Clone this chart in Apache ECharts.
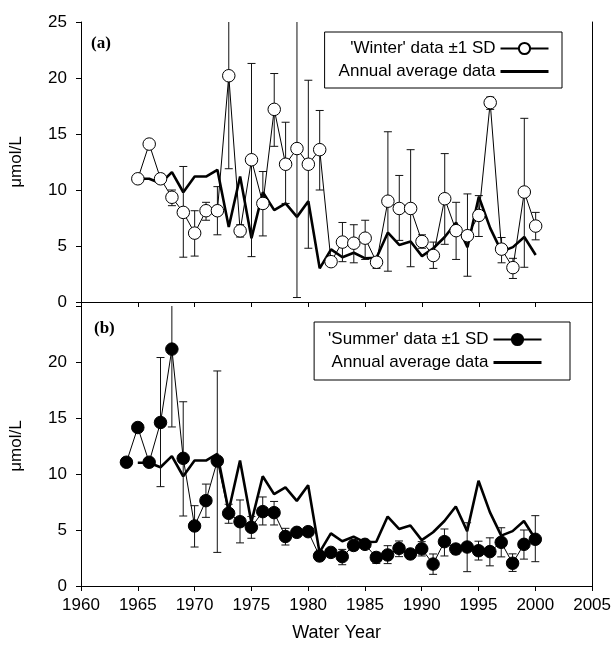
<!DOCTYPE html>
<html>
<head>
<meta charset="utf-8">
<script src="https://cdn.jsdelivr.net/npm/echarts@6/dist/echarts.min.js"></script>
<style>html,body{margin:0;padding:0;background:#fff}#c{width:614px;height:652px}</style>
</head>
<body>
<div id="c"></div>
<script>
// ---- Data ----
const winterYears = [1965,1966,1967,1968,1969,1970,1971,1972,1973,1974,1975,1976,1977,1978,1979,1980,1981,1982,1983,1984,1985,1986,1987,1988,1989,1990,1991,1992,1993,1994,1995,1996,1997,1998,1999,2000];
const winterVals = [11.0,14.1,11.0,9.35,8.0,6.15,8.15,8.15,20.2,6.35,12.7,8.8,17.2,12.3,13.7,12.3,13.6,3.6,5.35,5.25,5.7,3.55,9.0,8.35,8.35,5.4,4.15,9.22,6.37,5.92,7.73,17.8,4.72,3.07,9.82,6.78];
const winterLow  = [null,null,null,8.6,4.0,4.1,7.3,6.0,11.9,5.8,4.05,5.9,13.9,8.8,0.4,4.8,10.0,null,3.6,3.5,3.8,3.0,2.75,5.5,3.15,4.8,3.0,5.15,3.8,2.3,5.85,17.2,3.5,2.1,3.1,5.55];
const winterHigh = [null,null,null,10.0,12.1,8.15,8.9,10.3,27,6.9,21.3,11.65,20.4,16.05,27,19.8,17.1,null,7.1,6.9,7.3,4.0,15.2,11.3,13.6,6.0,5.35,13.25,8.9,9.65,9.5,18.3,5.76,3.9,16.4,8.0];

const summerYears = [1964,1965,1966,1967,1968,1969,1970,1971,1972,1973,1974,1975,1976,1977,1978,1979,1980,1981,1982,1983,1984,1985,1986,1987,1988,1989,1990,1991,1992,1993,1994,1995,1996,1997,1998,1999,2000];
const summerVals = [11.05,14.15,11.05,14.6,21.15,11.4,5.36,7.62,11.16,6.49,5.74,5.24,6.64,6.55,4.42,4.79,4.85,2.68,3.0,2.62,3.62,3.72,2.55,2.77,3.36,2.86,3.32,1.96,3.96,3.3,3.48,3.15,3.07,3.9,2.03,3.72,4.17];
const summerLow  = [null,null,null,8.87,14.2,6.25,3.48,6.13,3.0,5.6,3.85,4.26,5.45,5.45,3.66,4.45,4.5,2.3,null,1.9,3.2,3.4,2.02,2.0,2.62,null,2.68,1.04,2.68,2.85,1.28,2.32,1.8,2.6,1.3,2.4,2.17];
const summerHigh = [null,null,null,20.4,27,16.45,7.17,9.1,19.2,7.3,7.68,6.2,7.95,7.55,5.15,5.1,5.2,3.1,null,3.27,4.1,4.0,3.0,3.6,4.02,null,3.96,2.86,5.09,3.7,5.65,4.0,4.3,5.2,2.87,5.0,6.28];

const annualYears = [1965,1966,1967,1968,1969,1970,1971,1972,1973,1974,1975,1976,1977,1978,1979,1980,1981,1982,1983,1984,1985,1986,1987,1988,1989,1990,1991,1992,1993,1994,1995,1996,1997,1998,1999,2000];
const annualVals = [11.0,11.0,10.6,11.6,9.8,11.2,11.2,11.8,6.7,11.2,5.7,9.8,8.2,8.8,7.6,9.0,3.0,4.7,4.0,4.4,3.9,3.95,6.2,5.1,5.4,4.1,4.8,5.8,7.1,4.9,9.4,6.6,4.5,4.9,5.8,4.2];

const xTicks = {min: 1960, max: 2005, interval: 5};
const yTicks = {min: 0, max: 25, interval: 5};

const winterName = "'Winter' data \u00b11 SD";
const summerName = "'Summer' data \u00b11 SD";
const annualName = "Annual average data";

// ---- Build ----
const pairs = (xs, ys) => xs.map((x, i) => [x, ys[i]]);
const errData = (xs, lo, hi) => xs.map((x, i) => [x, lo[i], hi[i]]).filter(d => d[1] != null && d[2] != null);

const FONT = 'Liberation Sans, Arial, Helvetica, sans-serif';

function errRender(params, api) {
  const x = api.value(0);
  let lo = api.value(1), hi = api.value(2);
  const yMax = yTicks.max, yMin = yTicks.min;
  const capHi = hi <= yMax, capLo = lo >= yMin;
  hi = Math.min(hi, yMax); lo = Math.max(lo, yMin);
  const a = api.coord([x, lo]), b = api.coord([x, hi]);
  const hw = 4;
  const st = {stroke: '#111', lineWidth: 1, fill: null};
  const ch = [{type: 'line', shape: {x1: a[0], y1: a[1], x2: b[0], y2: b[1]}, style: st}];
  if (capLo) ch.push({type: 'line', shape: {x1: a[0]-hw, y1: a[1], x2: a[0]+hw, y2: a[1]}, style: st});
  if (capHi) ch.push({type: 'line', shape: {x1: b[0]-hw, y1: b[1], x2: b[0]+hw, y2: b[1]}, style: st});
  return {type: 'group', children: ch};
}

const axisLine = {show: true, lineStyle: {color: '#000', width: 1}};
function xAxisDef(grid, pos, showLabels, inside) {
  return {
    type: 'value', gridIndex: grid, position: pos, min: xTicks.min, max: xTicks.max, interval: xTicks.interval,
    axisLine: axisLine, splitLine: {show: false},
    axisTick: {show: true, inside: inside, length: 5, lineStyle: {color: '#000'}},
    axisLabel: {show: showLabels, fontSize: 17, color: '#000', fontFamily: FONT, margin: 11, formatter: v => String(v)}
  };
}
function yAxisDef(grid, pos, showLabels, hideMax) {
  return {
    type: 'value', gridIndex: grid, position: pos, min: yTicks.min, max: yTicks.max, interval: yTicks.interval,
    axisLine: axisLine, splitLine: {show: false},
    axisTick: {show: showLabels, inside: false, length: 5, lineStyle: {color: '#000'}},
    axisLabel: {show: showLabels, fontSize: 17, color: '#000', fontFamily: FONT, margin: 14,
      formatter: v => (hideMax && v === yTicks.max) ? '' : String(v)},
    name: showLabels ? '\u03bcmol/L' : '', nameLocation: 'middle', nameGap: 56,
    nameTextStyle: {fontSize: 17, color: '#000', fontFamily: FONT}
  };
}

const xA = [
  xAxisDef(0, 'bottom', false, false),
  xAxisDef(0, 'top', false, true),
  Object.assign(xAxisDef(1, 'bottom', true, false), {name: 'Water Year', nameLocation: 'middle', nameGap: 38,
    nameTextStyle: {fontSize: 18, color: '#000', fontFamily: FONT}}),
  xAxisDef(1, 'top', false, true)
];
const yA = [
  yAxisDef(0, 'left', true, false),
  yAxisDef(0, 'right', false, false),
  yAxisDef(1, 'left', true, true),
  yAxisDef(1, 'right', false, false)
];

const legendCommon = {
  orient: 'vertical', align: 'right', itemWidth: 48, itemHeight: 14, itemGap: 6,
  borderColor: '#000', borderWidth: 1, borderRadius: 0, backgroundColor: '#fff',
  textStyle: {fontSize: 17, color: '#000', fontFamily: FONT}, selectedMode: false
};
const annualLegendItem = {name: annualName,
  itemStyle: {color: 'rgba(0,0,0,0)', borderColor: 'rgba(0,0,0,0)', borderWidth: 0, opacity: 0},
  lineStyle: {color: '#000', width: 3}};

const option = {
  animation: false,
  backgroundColor: '#fff',
  grid: [
    {left: 80.5, right: 21.5, top: 22, height: 280},
    {left: 80.5, right: 21.5, top: 306, height: 280}
  ],
  xAxis: xA,
  yAxis: yA,
  legend: [
    Object.assign({}, legendCommon, {data: [winterName, annualLegendItem], right: 52, top: 32, padding: [8, 12, 8, 14]}),
    Object.assign({}, legendCommon, {data: [summerName, annualLegendItem], right: 44, top: 322, padding: [9, 27, 9, 14]})
  ],
  graphic: [
    {type: 'text', left: 91, top: 35, style: {text: '(a)', font: 'bold 17px "Liberation Serif", "Times New Roman", serif', fill: '#000'}},
    {type: 'text', left: 94, top: 320, style: {text: '(b)', font: 'bold 17px "Liberation Serif", "Times New Roman", serif', fill: '#000'}}
  ],
  series: [
    {name: annualName, type: 'line', xAxisIndex: 0, yAxisIndex: 0, data: pairs(annualYears, annualVals),
      symbol: 'none', lineStyle: {color: '#000', width: 2.6}, itemStyle: {color: '#000'}, z: 2},
    {name: 'winterErr', type: 'custom', xAxisIndex: 0, yAxisIndex: 0, data: errData(winterYears, winterLow, winterHigh),
      renderItem: errRender, encode: {x: 0, y: [1, 2]}, z: 3},
    {name: winterName, type: 'line', xAxisIndex: 0, yAxisIndex: 0, data: pairs(winterYears, winterVals),
      symbol: 'circle', symbolSize: 12.5, showAllSymbol: true,
      lineStyle: {color: '#000', width: 1}, itemStyle: {color: '#fff', borderColor: '#000', borderWidth: 1}, z: 4},

    {name: annualName, type: 'line', xAxisIndex: 2, yAxisIndex: 2, data: pairs(annualYears, annualVals),
      symbol: 'none', lineStyle: {color: '#000', width: 2.6}, itemStyle: {color: '#000'}, z: 2},
    {name: 'summerErr', type: 'custom', xAxisIndex: 2, yAxisIndex: 2, data: errData(summerYears, summerLow, summerHigh),
      renderItem: errRender, encode: {x: 0, y: [1, 2]}, z: 3},
    {name: summerName, type: 'line', xAxisIndex: 2, yAxisIndex: 2, data: pairs(summerYears, summerVals),
      symbol: 'circle', symbolSize: 12.5, showAllSymbol: true,
      lineStyle: {color: '#000', width: 1}, itemStyle: {color: '#000', borderColor: '#000', borderWidth: 1}, z: 4}
  ]
};

const chart = echarts.init(document.getElementById('c'), null, {renderer: 'canvas'});
chart.setOption(option);
</script>
</body>
</html>
